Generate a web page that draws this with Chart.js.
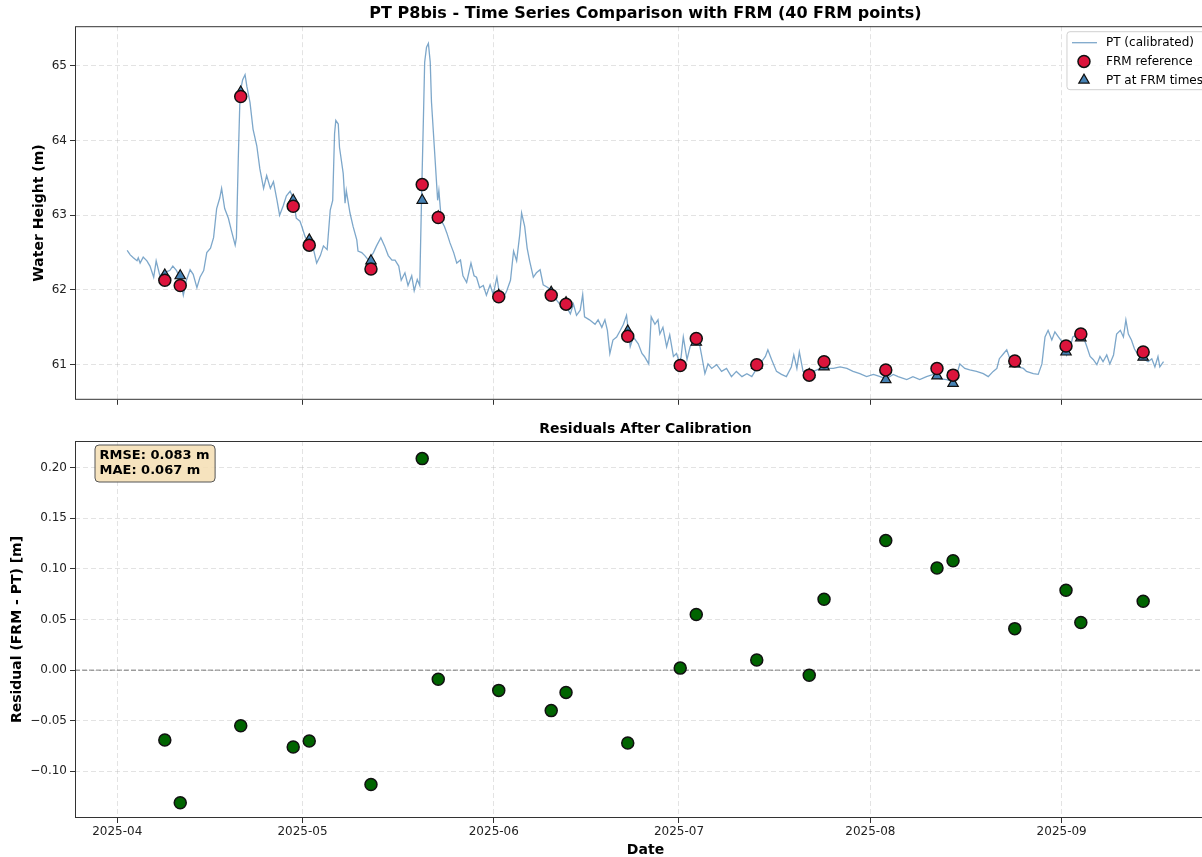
<!DOCTYPE html>
<html>
<head>
<meta charset="utf-8">
<script src="https://cdn.jsdelivr.net/npm/chart.js@4.4.1/dist/chart.umd.min.js"></script>
<style>
    html, body { margin: 0; padding: 0; background: #fff; overflow: hidden; }
    #wrap { position: relative; width: 1202px; height: 857px; overflow: hidden; }
    canvas { position: absolute; left: 0; }
    #heightChart { top: 0; }
    #residChart { top: 415px; }
</style>
</head>
<body>
<div id="wrap">
    <canvas id="heightChart" width="1216" height="410"></canvas>
    <canvas id="residChart" width="1216" height="446"></canvas>
</div>
<script>
// x values are days since 2025-04-01
const monthDays = [0, 30, 61, 91, 122, 153];
const monthLabels = ['2025-04', '2025-05', '2025-06', '2025-07', '2025-08', '2025-09'];
const heightTicks = [61, 62, 63, 64, 65];
const residTicks = [-0.10, -0.05, 0.00, 0.05, 0.10, 0.15, 0.20];

// PT (calibrated) series
const ptDay = [
    1.6, 2.1, 2.6, 3.2, 3.4, 3.7, 4.2, 4.8,
    5.3, 5.9, 6.3, 6.9, 7.4, 8.5, 9.0, 9.6,
    10.2, 10.7, 11.2, 11.8, 12.3, 12.9, 13.4, 14.0,
    14.5, 15.1, 15.6, 16.1, 16.6, 16.9, 17.4, 18.0,
    18.5, 19.1, 19.3, 19.6, 19.9, 20.3, 20.7, 21.0,
    21.5, 22.0, 22.6, 23.1, 23.7, 24.2, 24.8, 25.3,
    25.9, 26.3, 26.9, 27.4, 28.0, 28.5, 29.0, 29.6,
    29.9, 30.4, 31.2, 31.8, 32.3, 32.9, 33.4, 34.0,
    34.5, 34.9, 35.2, 35.4, 35.8, 36.0, 36.6, 36.9,
    37.1, 37.7, 38.2, 38.8, 39.0, 39.6, 40.1, 40.7,
    41.5, 42.0, 42.7, 43.3, 43.9, 44.5, 45.0, 45.6,
    46.0, 46.6, 47.1, 47.7, 48.1, 48.6, 49.0, 49.3,
    49.6, 49.8, 50.1, 50.4, 50.7, 50.9, 51.5, 51.9,
    52.1, 52.5, 53.0, 53.4, 53.9, 54.5, 55.0, 55.6,
    56.0, 56.6, 57.3, 57.8,
    58.2, 58.7, 59.3, 59.8, 60.4, 60.9, 61.5, 62.0,
    62.6, 63.1, 63.7, 64.2, 64.7, 65.2, 65.5, 66.0,
    66.4, 66.8, 67.4, 67.9, 68.5, 69.0, 69.8, 70.6,
    71.2, 71.7, 72.3, 72.8, 73.4, 73.9, 74.4, 75.0,
    75.4, 75.7, 76.5, 77.4, 77.9, 78.5, 79.0, 79.4,
    79.8, 80.3, 80.9, 81.5, 82.0, 82.5, 83.1, 83.6,
    84.4, 85.0, 85.4, 86.1,
    86.5, 87.1, 87.6, 87.9, 88.4, 89.0, 89.5, 90.1,
    90.6, 91.2, 91.7, 92.3, 92.8, 93.6, 94.2, 94.7,
    95.2, 95.7, 96.3, 97.1, 97.9, 98.7, 99.5, 100.3,
    101.2, 102.0, 102.8, 103.6, 104.4, 105.0, 105.4, 106.0,
    106.8, 107.6, 108.4, 109.2, 109.6, 110.1, 110.5, 111.1,
    112.0, 112.8, 113.9, 114.9, 116.0, 117.1, 118.2, 119.2,
    120.3, 121.4, 122.5, 123.6, 124.6, 125.7, 126.5,
    127.9, 128.9, 130.0, 131.1, 132.2, 133.3, 134.4, 135.4,
    135.9, 136.5, 137.3, 138.1, 139.2, 140.3, 141.1, 141.9,
    142.5, 142.9, 143.6, 144.1, 144.6, 145.1, 145.9, 146.8,
    147.3, 148.4, 149.2, 149.8, 150.3, 150.8, 151.4, 151.9,
    152.5, 153.3, 153.8, 154.4, 154.8, 155.6, 156.5, 157.0,
    157.6, 158.1, 158.7, 159.2, 159.7, 160.3, 160.8, 161.4,
    161.9, 162.5, 163.0, 163.4, 163.8, 164.3, 164.8, 165.4,
    166.2, 167.0, 167.6, 168.1, 168.6, 168.9, 169.5
];
const ptHeight = [
    62.53, 62.47, 62.43, 62.39, 62.43, 62.36, 62.44, 62.39,
    62.32, 62.17, 62.39, 62.19, 62.23, 62.26, 62.32, 62.26,
    62.14, 61.93, 62.13, 62.27, 62.21, 62.03, 62.17, 62.26,
    62.50, 62.56, 62.70, 63.09, 63.23, 63.36, 63.09, 62.96,
    62.79, 62.60, 62.70, 63.75, 64.64, 64.81, 64.88, 64.72,
    64.51, 64.15, 63.93, 63.62, 63.36, 63.53, 63.36, 63.45,
    63.19, 63.00, 63.13, 63.26, 63.32, 63.23, 62.96, 62.92,
    62.85, 62.72, 62.59, 62.54, 62.36, 62.46, 62.59, 62.54,
    63.07, 63.20, 64.09, 64.27, 64.22, 63.91, 63.56, 63.16,
    63.33, 63.03, 62.85, 62.67, 62.52, 62.50, 62.46, 62.40,
    62.50, 62.59, 62.70, 62.59, 62.46, 62.40, 62.40, 62.32,
    62.13, 62.23, 62.06, 62.19, 61.99, 62.14, 62.06, 63.25,
    64.31, 65.05, 65.25, 65.30, 65.05, 64.52, 63.73, 63.20,
    63.33, 62.93, 62.85, 62.76, 62.63, 62.50, 62.36, 62.40,
    62.19, 62.10, 62.36, 62.19,
    62.17, 62.03, 62.06, 61.93, 62.07, 61.94, 62.17, 61.90,
    61.90, 61.99, 62.13, 62.52, 62.39, 62.74, 63.03, 62.85,
    62.56, 62.39, 62.17, 62.23, 62.27, 62.07, 62.03, 61.94,
    61.86, 61.81, 61.86, 61.77, 61.68, 61.81, 61.66, 61.73,
    61.94, 61.64, 61.60, 61.54, 61.60, 61.50, 61.60, 61.46,
    61.15, 61.33, 61.37, 61.46, 61.54, 61.66, 61.24, 61.37,
    61.28, 61.15, 61.11, 61.01,
    61.64, 61.54, 61.60, 61.41, 61.50, 61.24, 61.40, 61.11,
    61.15, 61.00, 61.37, 61.07, 61.24, 61.34, 61.33, 61.11,
    60.88, 61.01, 60.95, 61.00, 60.91, 60.95, 60.84, 60.91,
    60.84, 60.88, 60.84, 60.95, 61.04, 61.11, 61.20, 61.07,
    60.91, 60.87, 60.84, 60.97, 61.13, 60.95, 61.17, 60.91,
    60.87, 60.91, 60.95, 60.95, 60.95, 60.97, 60.95, 60.91,
    60.88, 60.84, 60.87, 60.84, 60.81, 60.87, 60.84,
    60.80, 60.84, 60.80, 60.84, 60.87, 60.81, 60.80, 60.77,
    60.84, 61.01, 60.95, 60.93, 60.91, 60.88, 60.84, 60.91,
    60.95, 61.08, 61.15, 61.20, 61.08, 61.01, 60.97, 60.95,
    60.91, 60.88, 60.87, 61.01, 61.37, 61.46, 61.33, 61.44,
    61.37, 61.28, 61.13, 61.24, 61.37, 61.41, 61.37, 61.26,
    61.11, 61.07, 61.00, 61.11, 61.04, 61.13, 61.01, 61.13,
    61.41, 61.46, 61.37, 61.60, 61.41, 61.33, 61.21, 61.13,
    61.08, 61.04, 61.08, 60.97, 61.11, 60.97, 61.04
];

// FRM visits
const frmDay = [7.7, 10.2, 20.0, 28.5, 31.1, 41.1, 49.4, 52.0, 61.8, 70.3, 72.7, 82.7,
                91.2, 93.8, 103.6, 112.1, 114.5, 124.5, 132.8, 135.4, 145.4, 153.7, 156.1, 166.2];
const frmHeight = [62.13, 62.06, 64.59, 63.12, 62.60, 62.28, 63.41, 62.97, 61.91, 61.93, 61.81, 61.38,
                   60.99, 61.35, 61.00, 60.86, 61.04, 60.93, 60.95, 60.86, 61.05, 61.25, 61.41, 61.17];
const ptAtFrm = [62.20, 62.19, 64.65, 63.20, 62.67, 62.39, 63.20, 62.98, 61.93, 61.97, 61.83, 61.45,
                 60.99, 61.30, 60.99, 60.87, 60.97, 60.80, 60.85, 60.75, 61.01, 61.17, 61.36, 61.10];
const residual = [-0.069, -0.131, -0.055, -0.076, -0.070, -0.113, 0.209, -0.009, -0.020, -0.040, -0.022, -0.072,
                  0.002, 0.055, 0.010, -0.005, 0.070, 0.128, 0.101, 0.108, 0.041, 0.079, 0.047, 0.068];
const statLines = ['RMSE: 0.083 m', 'MAE: 0.067 m'];

Chart.defaults.font.family = "'DejaVu Sans', sans-serif";
Chart.defaults.color = '#222';

const gridColor = 'rgba(176,176,176,0.35)';

function dayAxis(showLabels, height) {
    return {
        type: 'linear',
        min: -6.85,
        max: 178.0,
        afterBuildTicks: s => { s.ticks = monthDays.map(v => ({ value: v })); },
        afterFit: s => { s.height = height; },
        ticks: {
            display: showLabels,
            autoSkip: false,
            maxRotation: 0,
            padding: 2,
            color: '#222',
            font: { size: 12 },
            callback: v => monthLabels[monthDays.indexOf(v)]
        },
        grid: { color: gridColor, tickColor: '#333', tickLength: 5, tickWidth: 1, tickBorderDash: [] },
        border: { display: false, dash: [5, 3] },
        title: showLabels ? {
            display: true, text: 'Date', color: '#000',
            font: { size: 14, weight: 'bold' }, padding: { top: 0, bottom: 2 }
        } : { display: false }
    };
}

function valueAxis(min, max, ticks, fmt, label, titlePad) {
    return {
        type: 'linear',
        min: min,
        max: max,
        afterBuildTicks: s => { s.ticks = ticks.map(v => ({ value: v })); },
        afterFit: s => { s.width = 75; },
        ticks: { padding: 3, color: '#222', font: { size: 12 }, callback: fmt },
        grid: { color: gridColor, tickColor: '#333', tickLength: 5, tickWidth: 1, tickBorderDash: [] },
        border: { display: false, dash: [5, 3] },
        title: {
            display: true, text: label, color: '#000',
            font: { size: 14, weight: 'bold' }, padding: { top: titlePad, bottom: 0 }
        }
    };
}

// axes frame, like matplotlib spines
const frame = {
    id: 'frame',
    afterDatasetsDraw(chart) {
        const { ctx, chartArea: a } = chart;
        ctx.save();
        ctx.strokeStyle = '#333';
        ctx.lineWidth = 1;
        ctx.strokeRect(a.left + 0.5, a.top + 0.5, a.right - a.left - 1, a.bottom - a.top - 1);
        ctx.restore();
    }
};

const legendBox = {
    id: 'legendBox',
    afterDraw(chart) {
        const { ctx, chartArea: a } = chart;
        const sets = chart.data.datasets;
        ctx.save();
        ctx.font = "12px 'DejaVu Sans'";
        const textW = Math.max(...sets.map(d => ctx.measureText(d.label).width));
        const w = textW + 47, h = 58;
        const x0 = a.right - 5 - w, y0 = a.top + 5.5;
        ctx.beginPath();
        ctx.roundRect(x0, y0, w, h, 3);
        ctx.fillStyle = 'rgba(255,255,255,0.8)';
        ctx.fill();
        ctx.strokeStyle = '#d0d0d0';
        ctx.lineWidth = 1;
        ctx.stroke();
        sets.forEach((d, i) => {
            const cy = y0 + 11 + i * 18.7;
            if (d.type === 'line') {
                ctx.strokeStyle = d.borderColor;
                ctx.lineWidth = d.borderWidth;
                ctx.beginPath();
                ctx.moveTo(x0 + 5, cy);
                ctx.lineTo(x0 + 30, cy);
                ctx.stroke();
            } else {
                ctx.fillStyle = d.backgroundColor;
                ctx.strokeStyle = d.borderColor;
                ctx.lineWidth = d.borderWidth;
                Chart.helpers.drawPoint(ctx, {
                    pointStyle: d.pointStyle, radius: d.pointRadius,
                    borderWidth: d.borderWidth
                }, x0 + 17, cy);
            }
            ctx.fillStyle = '#000';
            ctx.textBaseline = 'middle';
            ctx.fillText(d.label, x0 + 39, cy + 0.5);
        });
        ctx.restore();
    }
};

const zeroLine = {
    id: 'zeroLine',
    beforeDatasetsDraw(chart) {
        const { ctx, chartArea: a, scales } = chart;
        const y = scales.y.getPixelForValue(0);
        ctx.save();
        ctx.strokeStyle = 'rgba(0,0,0,0.5)';
        ctx.lineWidth = 1;
        ctx.setLineDash([5, 2]);
        ctx.beginPath();
        ctx.moveTo(a.left, y);
        ctx.lineTo(a.right, y);
        ctx.stroke();
        ctx.restore();
    }
};

const statBox = {
    id: 'statBox',
    afterDraw(chart) {
        const { ctx, chartArea: a } = chart;
        ctx.save();
        ctx.font = "bold 13px 'DejaVu Sans'";
        const textW = Math.max(...statLines.map(t => ctx.measureText(t).width));
        const x0 = a.left + 20, y0 = a.top + 4;
        const w = textW + 10, h = 37;
        ctx.beginPath();
        ctx.roundRect(x0, y0, w, h, 4);
        ctx.fillStyle = 'rgba(245,222,179,0.85)';
        ctx.fill();
        ctx.strokeStyle = '#555';
        ctx.lineWidth = 1;
        ctx.stroke();
        ctx.fillStyle = '#000';
        ctx.textBaseline = 'middle';
        statLines.forEach((t, i) => ctx.fillText(t, x0 + 4.5, y0 + 10.5 + i * 15.5));
        ctx.restore();
    }
};

new Chart(document.getElementById('heightChart'), {
    data: {
        datasets: [
            {
                type: 'line',
                label: 'PT (calibrated)',
                data: ptDay.map((d, i) => ({ x: d, y: ptHeight[i] })),
                borderColor: 'rgba(70,130,180,0.7)',
                borderWidth: 1.3,
                pointRadius: 0,
                tension: 0,
                order: 3
            },
            {
                type: 'scatter',
                label: 'FRM reference',
                data: frmDay.map((d, i) => ({ x: d, y: frmHeight[i] })),
                pointStyle: 'circle',
                pointRadius: 6,
                backgroundColor: '#dc143c',
                borderColor: '#111',
                borderWidth: 1.5,
                order: 1
            },
            {
                type: 'scatter',
                label: 'PT at FRM times',
                data: frmDay.map((d, i) => ({ x: d, y: ptAtFrm[i] })),
                pointStyle: 'triangle',
                pointRadius: 6,
                backgroundColor: '#4682b4',
                borderColor: '#111',
                borderWidth: 1.2,
                order: 2
            }
        ]
    },
    options: {
        responsive: false,
        animation: false,
        layout: { padding: 0, autoPadding: false },
        scales: {
            x: dayAxis(false, 7),
            y: valueAxis(60.53, 65.53, heightTicks, v => String(v), 'Water Height (m)', 31)
        },
        plugins: {
            legend: { display: false },
            tooltip: { enabled: false },
            title: {
                display: true,
                fullSize: false,
                text: 'PT P8bis - Time Series Comparison with FRM (40 FRM points)',
                color: '#000',
                font: { size: 16, weight: 'bold' },
                padding: { top: 4, bottom: 3 }
            }
        }
    },
    plugins: [frame, legendBox]
});

new Chart(document.getElementById('residChart'), {
    type: 'scatter',
    data: {
        datasets: [{
            label: 'Residual',
            data: frmDay.map((d, i) => ({ x: d, y: residual[i] })),
            pointStyle: 'circle',
            pointRadius: 6,
            backgroundColor: '#006400',
            borderColor: '#111',
            borderWidth: 1.5
        }]
    },
    options: {
        responsive: false,
        animation: false,
        layout: { padding: 0, autoPadding: false },
        scales: {
            x: dayAxis(true, 43),
            y: valueAxis(-0.1461, 0.2264, residTicks, v => v.toFixed(2).replace('-', '\u2212'), 'Residual (FRM - PT) [m]', 9)
        },
        plugins: {
            legend: { display: false },
            tooltip: { enabled: false },
            title: {
                display: true,
                fullSize: false,
                text: 'Residuals After Calibration',
                color: '#000',
                font: { size: 14, weight: 'bold' },
                padding: { top: 6, bottom: 3.2 }
            }
        }
    },
    plugins: [frame, zeroLine, statBox]
});
</script>
</body>
</html>
